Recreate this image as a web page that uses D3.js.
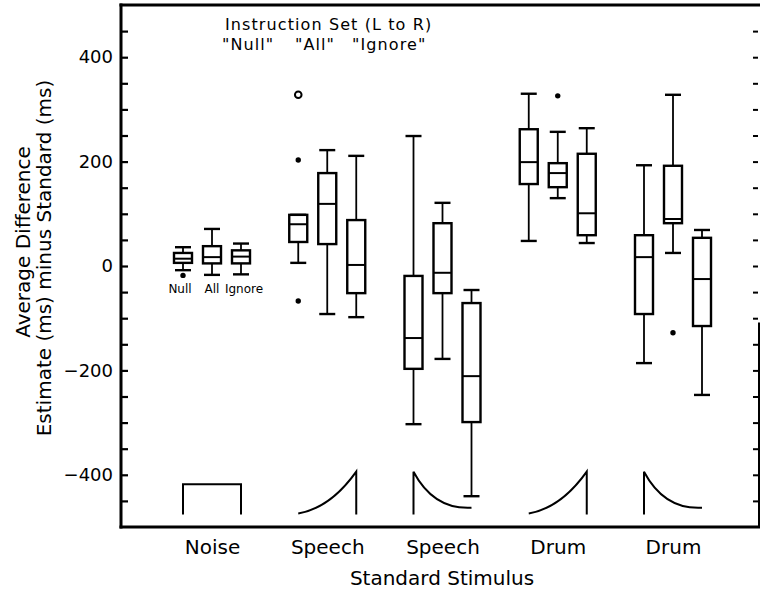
<!DOCTYPE html>
<html>
<head>
<meta charset="utf-8">
<script src="https://cdn.jsdelivr.net/npm/d3@7"></script>
<style>
  body { margin: 0; background: #fff; }
  svg { display: block; font-family: "DejaVu Sans", sans-serif; }
</style>
</head>
<body>
<svg id="chart" width="760" height="591"></svg>
<script>
/* ---- data ---- */
const categories = ['Noise', 'Speech', 'Speech', 'Drum', 'Drum'];
const stimulusShape = ['flat', 'rise', 'decay', 'rise', 'decay'];
const instructions = ['Null', 'All', 'Ignore'];

// [low whisker, q1, median, q3, high whisker] for Null, All, Ignore (ms)
const statsNoise       = [[-8, 6, 14, 25, 36], [-17, 5, 17, 38, 71], [-16, 5, 18, 30, 43]];
const statsSpeechRise  = [[6, 46, 80, 98, 98], [-92, 42, 119, 178, 222], [-98, -52, 2, 88, 211]];
const statsSpeechDecay = [[-303, -197, -138, -19, 249], [-178, -52, -13, 82, 121], [-441, -299, -211, -71, -46]];
const statsDrumRise    = [[48, 157, 199, 262, 330], [130, 151, 178, 197, 257], [44, 59, 101, 215, 264]];
const statsDrumDecay   = [[-186, -92, 17, 59, 193], [25, 82, 90, 192, 328], [-247, -115, -25, 54, 69]];
const groupStats = [statsNoise, statsSpeechRise, statsSpeechDecay, statsDrumRise, statsDrumDecay];

// outliers: [group, instruction, value, open circle?]
const outliers = [
  [0, 'Null', -18, false],
  [1, 'Null', 203, false], [1, 'Null', 328, true], [1, 'Null', -67, false],
  [3, 'All', 326, false],
  [4, 'All', -128, false]
];

// stimulus envelope icons (in ms units of the y axis)
const iconBase = -476, iconPeak = -394, iconFlat = -418, iconTail = -463;

/* ---- layout ---- */
const svg = d3.select('#chart');
const L = 121, R = 758, T = 5, B = 527;
const y = d3.scaleLinear().domain([-500, 500]).range([B, T]);
const xGroup = d3.scalePoint().domain(d3.range(categories.length)).range([212, 673]);
const xInstr = d3.scalePoint().domain(instructions).range([-29, 29]);
const boxW = 18, capW = 16;
const cx = (g, ins) => xGroup(g) + xInstr(ins);

/* left axis: inward ticks every 50, labels every 200 */
const yAxis = svg.append('g').attr('transform', `translate(${L},0)`)
  .call(d3.axisLeft(y).tickValues(d3.range(-450, 451, 50)).tickSize(-7).tickPadding(8)
    .tickFormat(d => d % 200 === 0 ? d3.format('d')(d) : ''));
yAxis.select('.domain').remove();
yAxis.selectAll('line').attr('stroke', '#000').attr('stroke-width', 2.2);
yAxis.selectAll('text').attr('font-size', 18).attr('font-family', '"DejaVu Sans", sans-serif').attr('fill', '#000');

/* right side ticks (faint right edge) */
const rAxis = svg.append('g').attr('transform', `translate(${R},0)`)
  .call(d3.axisRight(y).tickValues(d3.range(-450, 451, 50)).tickSize(-5).tickFormat(''));
rAxis.select('.domain').remove();
rAxis.selectAll('line').attr('stroke', '#000').attr('stroke-width', 2);

/* frame */
const frame = svg.append('g').attr('stroke', '#000').attr('fill', 'none').attr('stroke-linecap', 'square');
frame.append('line').attr('x1', L).attr('x2', L).attr('y1', T).attr('y2', B).attr('stroke-width', 3);
frame.append('line').attr('x1', L).attr('x2', 760).attr('y1', T).attr('y2', T).attr('stroke-width', 3);
frame.append('line').attr('x1', L).attr('x2', 760).attr('y1', B).attr('y2', B).attr('stroke-width', 3);
frame.append('line').attr('x1', R + 1).attr('x2', R + 1).attr('y1', y(-110)).attr('y2', B).attr('stroke-width', 2);

/* category labels */
const xAxis = svg.append('g').attr('transform', `translate(0,${B})`)
  .call(d3.axisBottom(xGroup).tickSize(0).tickPadding(13).tickFormat(i => categories[i]));
xAxis.select('.domain').remove();
xAxis.selectAll('text').attr('font-size', 20).attr('font-family', '"DejaVu Sans", sans-serif').attr('fill', '#000');

/* boxes */
const boxes = [];
groupStats.forEach((st, g) => st.forEach((s, i) => boxes.push({ g, ins: instructions[i], s })));
const bx = svg.append('g').selectAll('g').data(boxes).join('g').attr('stroke', '#000').attr('fill', 'none');
bx.append('line').attr('stroke-width', 1.8)
  .attr('x1', d => cx(d.g, d.ins)).attr('x2', d => cx(d.g, d.ins))
  .attr('y1', d => y(d.s[0])).attr('y2', d => y(d.s[1]));
bx.append('line').attr('stroke-width', 1.8)
  .attr('x1', d => cx(d.g, d.ins)).attr('x2', d => cx(d.g, d.ins))
  .attr('y1', d => y(d.s[3])).attr('y2', d => y(d.s[4]));
[0, 4].forEach(k => bx.append('line').attr('stroke-width', 2.4)
  .attr('x1', d => cx(d.g, d.ins) - capW / 2).attr('x2', d => cx(d.g, d.ins) + capW / 2)
  .attr('y1', d => y(d.s[k])).attr('y2', d => y(d.s[k])));
bx.append('rect').attr('stroke-width', 2.4).attr('fill', '#fff')
  .attr('x', d => cx(d.g, d.ins) - boxW / 2).attr('width', boxW)
  .attr('y', d => y(d.s[3])).attr('height', d => y(d.s[1]) - y(d.s[3]));
bx.append('line').attr('stroke-width', 2)
  .attr('x1', d => cx(d.g, d.ins) - boxW / 2).attr('x2', d => cx(d.g, d.ins) + boxW / 2)
  .attr('y1', d => y(d.s[2])).attr('y2', d => y(d.s[2]));

/* outliers */
svg.append('g').selectAll('circle').data(outliers).join('circle')
  .attr('cx', d => cx(d[0], d[1])).attr('cy', d => y(d[2]))
  .attr('r', d => d[3] ? 3.3 : 2.7)
  .attr('fill', d => d[3] ? '#fff' : '#000').attr('stroke', '#000').attr('stroke-width', d => d[3] ? 2 : 0);

/* stimulus envelope icons below each group */
svg.append('g').selectAll('path').data(stimulusShape).join('path')
  .attr('fill', 'none').attr('stroke', '#000').attr('stroke-width', 2)
  .attr('d', (shape, g) => {
    const x0 = cx(g, 'Null'), x1 = cx(g, 'Ignore'), p = d3.path();
    if (shape === 'flat') {
      p.moveTo(x0, y(iconBase)); p.lineTo(x0, y(iconFlat)); p.lineTo(x1, y(iconFlat)); p.lineTo(x1, y(iconBase));
    } else if (shape === 'rise') {
      p.moveTo(x0, y(iconBase + 2)); p.quadraticCurveTo(x0 + (x1 - x0) * 0.55, y(iconBase + 12), x1, y(iconPeak));
      p.lineTo(x1, y(iconBase));
    } else {
      p.moveTo(x0, y(iconBase)); p.lineTo(x0, y(iconPeak));
      p.quadraticCurveTo(x0 + (x1 - x0) * 0.35, y(iconTail - 4), x1, y(iconTail));
    }
    return p.toString();
  });

/* instruction labels under the noise boxes */
const nudge = [-3, 0, 3];
svg.append('g').selectAll('text').data(instructions).join('text')
  .attr('x', (d, i) => cx(0, d) + nudge[i]).attr('y', 293).attr('text-anchor', 'middle')
  .attr('font-size', 12).text(d => d);

/* header */
svg.append('text').attr('x', 225).attr('y', 30).attr('font-size', 16).attr('letter-spacing', 1.1)
  .text('Instruction Set (L to R)');
const headerX = [222, 295, 352];
svg.append('g').selectAll('text').data(instructions).join('text')
  .attr('x', (d, i) => headerX[i]).attr('y', 50).attr('font-size', 16).attr('letter-spacing', 1.1)
  .text(d => `"${d}"`);

/* axis titles */
svg.append('text').attr('x', 442).attr('y', 585).attr('text-anchor', 'middle')
  .attr('font-size', 20).text('Standard Stimulus');
svg.append('text').attr('transform', 'translate(30,242) rotate(-90)').attr('text-anchor', 'middle')
  .attr('font-size', 20).text('Average Difference');
svg.append('text').attr('transform', 'translate(51,258) rotate(-90)').attr('text-anchor', 'middle')
  .attr('font-size', 20).text('Estimate (ms) minus Standard (ms)');
</script>
</body>
</html>
